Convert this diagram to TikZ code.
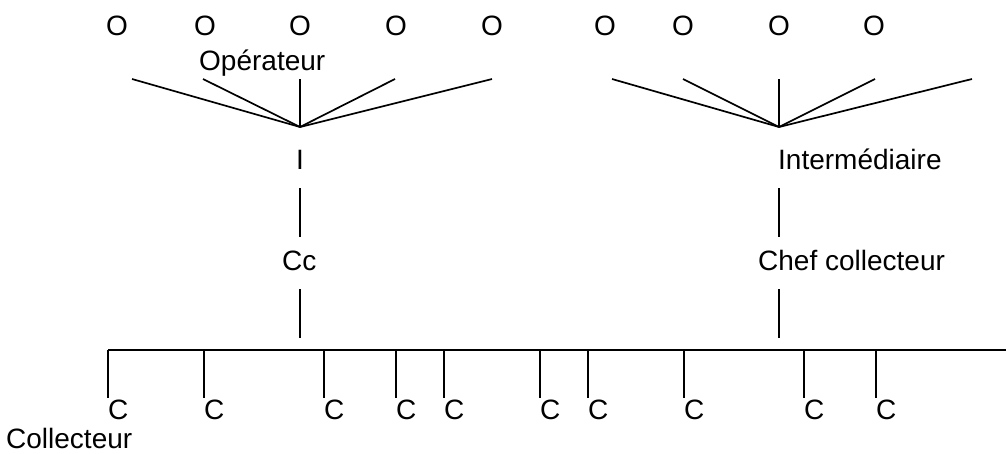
\documentclass[tikz,border=0pt]{standalone}
\usepackage{fontspec}
\setmainfont{Liberation Sans}
\begin{document}
\begin{tikzpicture}[x=1pt,y=-1pt,
  lbl/.style={font=\fontsize{28}{32}\selectfont, inner sep=0pt, anchor=base},
  lblw/.style={lbl, anchor=base west},
  ln/.style={line width=1.7pt}]
\useasboundingbox (0,0) rectangle (1006,453);
% operators
\foreach \x [count=\i] in {117,205,300,396,492,605,683,779,874}
  \node[lbl] (o\i) at (\x,35) {O};
\node[lblw] (op) at (199,70) {Opérateur};
% left fan
\coordinate (ia) at (300,127);
\foreach \x [count=\i] in {132,203,300,395,492}
  \coordinate (lt\i) at (\x,79);
\foreach \i in {1,...,5} \draw[ln] (lt\i) -- (ia);
% right fan
\coordinate (ib) at (779,127);
\foreach \x [count=\i] in {612,683,779,875,972}
  \coordinate (rt\i) at (\x,79);
\foreach \i in {1,...,5} \draw[ln] (rt\i) -- (ib);
% intermediaries
\node[lbl] (i1) at (300,169) {I};
\node[lblw] (i2) at (778,169) {Intermédiaire};
\coordinate (v1a) at (300,188); \coordinate (v1b) at (300,237);
\coordinate (v2a) at (779,188); \coordinate (v2b) at (779,237);
\draw[ln] (v1a) -- (v1b);
\draw[ln] (v2a) -- (v2b);
% chefs collecteurs
\node[lblw] (cc1) at (282,270) {Cc};
\node[lblw] (cc2) at (758,270) {Chef collecteur};
\coordinate (w1a) at (300,289); \coordinate (w1b) at (300,338);
\coordinate (w2a) at (779,289); \coordinate (w2b) at (779,338);
\draw[ln] (w1a) -- (w1b);
\draw[ln] (w2a) -- (w2b);
% bus
\coordinate (bus0) at (108,350);
\coordinate (busE) at (1006,350);
\draw[ln] (bus0) -- (busE);
\foreach \x [count=\i] in {108,204,324,396,444,540,588,684,804,876}{
  \coordinate (d\i) at (\x,350);
  \node[lblw] (c\i) at (\x,419) {C};
  \draw[ln] (d\i) -- (\x,398);
}
\node[lblw] (col) at (6,448) {Collecteur};
\end{tikzpicture}
\end{document}
